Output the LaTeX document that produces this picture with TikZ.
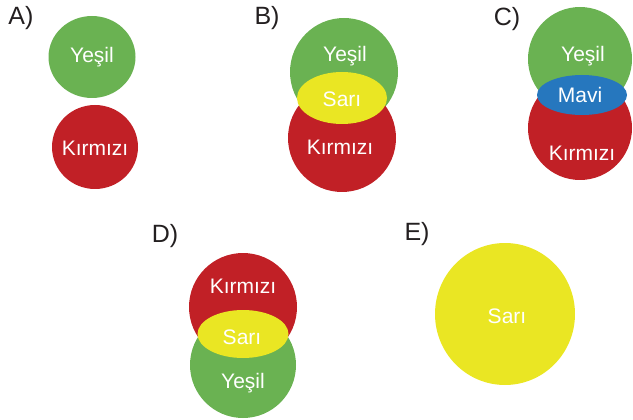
\documentclass[tikz,border=0pt]{standalone}
\usepackage{fontspec}
\setmainfont{Liberation Sans}
\usetikzlibrary{shapes.geometric}
\definecolor{gr}{RGB}{106,178,82}
\definecolor{rd}{RGB}{193,32,38}
\definecolor{yl}{RGB}{234,230,35}
\definecolor{bl}{RGB}{38,119,190}
\definecolor{ink}{RGB}{35,31,32}
\tikzset{
  lbl/.style={text=white, font=\fontsize{21}{21}\selectfont, inner sep=0pt},
  letter/.style={text=ink, font=\fontsize{25}{25}\selectfont, inner sep=0pt}
}
\begin{document}
\begin{tikzpicture}[x=1pt,y=-1pt]
\useasboundingbox (0,0) rectangle (633,420);
% A
\node[letter] (la) at (21,18) {A)};
\node[ellipse, fill=gr, minimum width=87pt, minimum height=82pt] (ag) at (92,57) {};
\node[ellipse, fill=rd, minimum width=86pt, minimum height=84pt] (ar) at (95,147) {};
\node[lbl] (tag) at (92,57) {Yeşil};
\node[lbl] (tar) at (95,148) {Kırmızı};
% B
\node[letter] (lb) at (267,18) {B)};
\node[ellipse, fill=gr, minimum width=108pt, minimum height=108pt] (bg) at (344,72) {};
\node[ellipse, fill=rd, minimum width=108pt, minimum height=108pt] (br) at (342,138) {};
\node[ellipse, fill=yl, minimum width=90pt, minimum height=52pt] (by) at (342,98) {};
\node[lbl] (tbg) at (345,56) {Yeşil};
\node[lbl] (tby) at (342,99) {Sarı};
\node[lbl] (tbr) at (340,147) {Kırmızı};
% C
\node[letter] (lc) at (507,19) {C)};
\node[ellipse, fill=gr, minimum width=104pt, minimum height=104pt] (cg) at (580,59) {};
\node[ellipse, fill=rd, minimum width=104pt, minimum height=104pt] (cr) at (580,128) {};
\node[ellipse, fill=bl, minimum width=90pt, minimum height=40pt] (cb) at (582,95) {};
\node[lbl] (tcg) at (583,56) {Yeşil};
\node[lbl] (tcb) at (580,95) {Mavi};
\node[lbl] (tcr) at (582,153) {Kırmızı};
% D
\node[letter] (ld) at (165,236) {D)};
\node[ellipse, fill=rd, minimum width=108pt, minimum height=108pt] (dr) at (243,307) {};
\node[ellipse, fill=gr, minimum width=106pt, minimum height=106pt] (dg) at (243,365) {};
\node[ellipse, fill=yl, minimum width=91pt, minimum height=48pt] (dy) at (243,334) {};
\node[lbl] (tdr) at (243,286) {Kırmızı};
\node[lbl] (tdy) at (242,337) {Sarı};
\node[lbl] (tdg) at (243,383) {Yeşil};
% E
\node[letter] (le) at (417,234) {E)};
\node[ellipse, fill=yl, minimum width=140pt, minimum height=142pt] (ey) at (505,314) {};
\node[lbl] (tey) at (507,316) {Sarı};
\end{tikzpicture}
\end{document}
